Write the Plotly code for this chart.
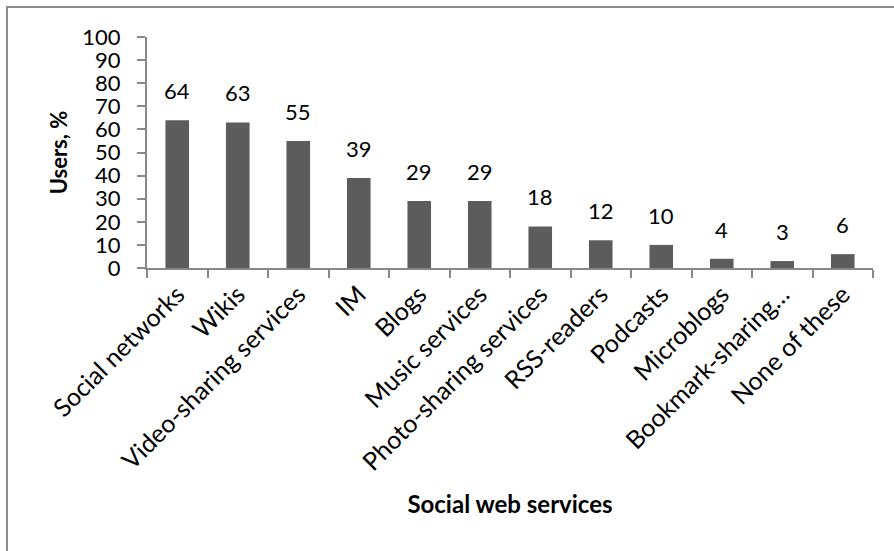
import plotly.graph_objects as go

categories = ["Social networks", "Wikis", "Video-sharing services", "IM", "Blogs",
              "Music services", "Photo-sharing services", "RSS-readers", "Podcasts",
              "Microblogs", "Bookmark-sharing…", "None of these"]
users_pct = [64, 63, 55, 39, 29, 29, 18, 12, 10, 4, 3, 6]
y_ticks = list(range(0, 101, 10))

FONT = "Lato"
AXIS_GREY = "#888888"

fig = go.Figure(go.Bar(
    x=categories, y=users_pct,
    marker=dict(color="#5c5c5c", line=dict(width=0)),
    width=0.39,
    hoverinfo="x+y",
))

# value labels above each bar
for c, v in zip(categories, users_pct):
    fig.add_annotation(x=c, y=v, text=str(v), showarrow=False,
                       yanchor="bottom", yshift=14,
                       font=dict(family=FONT, size=22, color="#000000"))

W, H = 894, 551
L, R, T, B = 147, 21, 37, 283
pw, ph = W - L - R, H - T - B

def px_x(p):
    return (p - L) / pw

def px_y(p):
    return (H - B - p) / ph

# chart frame
fig.add_shape(type="rect", xref="paper", yref="paper",
              x0=px_x(7), x1=px_x(905), y0=px_y(7), y1=px_y(565),
              line=dict(color="#8c8c8c", width=2), fillcolor="rgba(0,0,0,0)")

fig.update_layout(
    width=W, height=H,
    margin=dict(l=L, r=R, t=T, b=B),
    paper_bgcolor="white", plot_bgcolor="white",
    font=dict(family=FONT, size=22, color="#000000"),
    showlegend=False,
    xaxis=dict(
        type="category",
        showline=True, linecolor=AXIS_GREY, linewidth=2,
        ticks="outside", tickson="boundaries", ticklen=8, tickwidth=2, tickcolor=AXIS_GREY,
        tickangle=-45, tickfont=dict(family=FONT, size=25),
        showgrid=False, zeroline=False,
        title=dict(text="<b>Social web services</b>", font=dict(family=FONT, size=24), standoff=22),
    ),
    yaxis=dict(
        range=[0, 100], tickvals=y_ticks,
        showline=True, linecolor=AXIS_GREY, linewidth=2,
        ticks="outside", ticklen=8, tickwidth=2, tickcolor=AXIS_GREY,
        tickfont=dict(family=FONT, size=22), ticklabelstandoff=12,
        showgrid=False, zeroline=False,
        title=dict(text="<b>Users, %</b>", font=dict(family=FONT, size=22), standoff=9),
    ),
)

fig.write_html("out.html")
